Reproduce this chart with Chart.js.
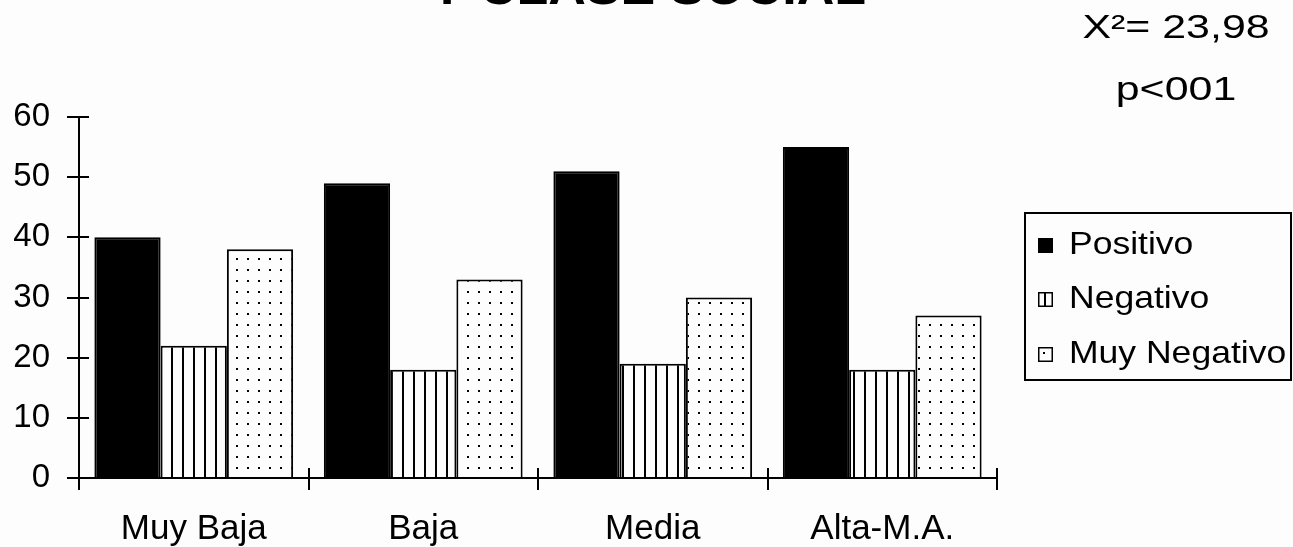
<!DOCTYPE html>
<html>
<head>
<meta charset="utf-8">
<script src="https://cdn.jsdelivr.net/npm/chart.js@4.4.1/dist/chart.umd.min.js"></script>
<style>
  html, body { margin: 0; padding: 0; background: #fdfdfd; overflow: hidden; }
  #wrap { width: 1293px; height: 547px; position: relative; }
  canvas { display: block; }
</style>
</head>
<body>
<div id="wrap"><canvas id="c" width="1293" height="547"></canvas></div>
<script>
// Data
const categories = ['Muy Baja', 'Baja', 'Media', 'Alta-M.A.'];
const seriesNames = ['Positivo', 'Negativo', 'Muy Negativo'];
const positivo = [40, 49, 51, 55];
const negativo = [22, 18, 19, 18];
const muyNegativo = [38, 33, 30, 27];
const yTicks = [0, 10, 20, 30, 40, 50, 60];
const titleText = 'Y CLASE SOCIAL';
const statLines = ['X\u00B2= 23,98', 'p<001'];

const BG = '#fdfdfd';
const FONT = '"Liberation Sans", Arial, sans-serif';

const canvas = document.getElementById('c');
const ctx = canvas.getContext('2d');

// Fill patterns: vertical hatching and a sparse dot grid
function linePattern() {
  const c = document.createElement('canvas');
  c.width = 11; c.height = 11;
  const g = c.getContext('2d');
  g.fillStyle = BG; g.fillRect(0, 0, 11, 11);
  g.fillStyle = '#000'; g.fillRect(6, 0, 2, 11);
  return ctx.createPattern(c, 'repeat');
}
function dotPattern() {
  const c = document.createElement('canvas');
  c.width = 11; c.height = 11;
  const g = c.getContext('2d');
  g.fillStyle = BG; g.fillRect(0, 0, 11, 11);
  g.fillStyle = '#000'; g.fillRect(5, 5, 2, 2);
  return ctx.createPattern(c, 'repeat');
}
const fills = ['#000000', linePattern(), dotPattern()];

// Axes with crossing tick marks, title, statistics and legend box
const frame = {
  id: 'frame',
  beforeDraw(chart) {
    const g = chart.ctx;
    g.save();
    g.fillStyle = BG;
    g.fillRect(0, 0, chart.width, chart.height);
    g.restore();
  },
  afterDraw(chart) {
    const g = chart.ctx;
    const xs = chart.scales.x, ys = chart.scales.y;
    const area = chart.chartArea;
    const x0 = area.left, y0 = ys.getPixelForValue(0);
    g.save();
    g.strokeStyle = '#000';
    g.lineWidth = 2;
    g.lineCap = 'butt';

    // y axis + ticks
    g.beginPath();
    g.moveTo(x0, ys.getPixelForValue(yTicks[yTicks.length - 1]) - 1);
    g.lineTo(x0, y0 + 12);
    yTicks.forEach(v => {
      const y = Math.round(ys.getPixelForValue(v));
      g.moveTo(x0 - 12, y);
      g.lineTo(x0 + 10, y);
    });
    // x axis + boundary ticks
    g.moveTo(x0 - 12, y0);
    g.lineTo(area.right, y0);
    const step = (area.right - area.left) / categories.length;
    for (let i = 0; i <= categories.length; i++) {
      const x = Math.round(i < categories.length ? xs.getPixelForValue(i) - step / 2 : xs.getPixelForValue(i - 1) + step / 2);
      g.moveTo(x, y0 - 10);
      g.lineTo(x, y0 + 12);
    }
    g.stroke();

    // title (runs off the top edge)
    g.fillStyle = '#000';
    g.font = 'bold 52px ' + FONT;
    g.textAlign = 'center';
    g.textBaseline = 'alphabetic';
    g.fillText(titleText, 648, 4);

    // statistics, in a wide face
    g.font = '33px ' + FONT;
    [[statLines[0], 38], [statLines[1], 100]].forEach(([t, y]) => {
      g.save();
      g.translate(1176, y);
      g.scale(1.3, 1);
      g.fillText(t, 0, 0);
      g.restore();
    });

    // legend
    g.lineWidth = 2;
    g.strokeRect(1025, 213, 266, 167);
    const baselines = [254, 308, 363];
    g.textAlign = 'left';
    chart.data.datasets.forEach((ds, i) => {
      const by = baselines[i];
      const sx = 1038, sy = by - 16, s = 15;
      g.save();
      g.translate(sx, sy);
      g.fillStyle = ds.backgroundColor;
      g.fillRect(0, 0, s, s);
      g.lineWidth = 1.5;
      g.strokeRect(0.75, 0.75, s - 1.5, s - 1.5);
      g.restore();
      g.save();
      g.fillStyle = '#000';
      g.font = '32px ' + FONT;
      g.translate(1069, by);
      g.scale(1.11, 1);
      g.fillText(ds.label, 0, 0);
      g.restore();
    });
    g.restore();
  }
};

new Chart(ctx, {
  type: 'bar',
  data: {
    labels: categories,
    datasets: [positivo, negativo, muyNegativo].map((d, i) => ({
      label: seriesNames[i],
      data: d,
      backgroundColor: fills[i],
      borderColor: '#000',
      borderWidth: 2,
      categoryPercentage: 0.866,
      barPercentage: 1.0
    }))
  },
  options: {
    responsive: false,
    animation: false,
    events: [],
    layout: { padding: { top: 117, right: 296, bottom: 0, left: 0 } },
    plugins: {
      legend: { display: false },
      tooltip: { enabled: false },
      title: { display: false }
    },
    scales: {
      x: {
        grid: { display: false, drawTicks: false },
        border: { display: false },
        ticks: { color: '#000', font: { family: FONT, size: 35 }, padding: 30, maxRotation: 0, autoSkip: false },
        afterFit(s) { s.height = 69; }
      },
      y: {
        min: 0, max: 60,
        afterBuildTicks(s) { s.ticks = yTicks.map(v => ({ value: v })); },
        grid: { display: false, drawTicks: false },
        border: { display: false },
        ticks: { color: '#000', font: { family: FONT, size: 33 }, padding: 29 },
        afterFit(s) { s.width = 79; }
      }
    }
  },
  plugins: [frame]
});
</script>
</body>
</html>
